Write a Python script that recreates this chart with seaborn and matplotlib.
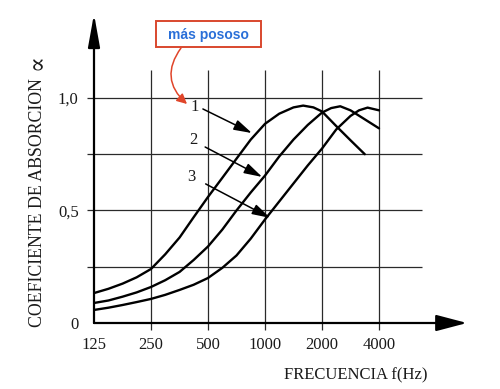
import numpy as np
import pandas as pd
import matplotlib
matplotlib.use('Agg')
import matplotlib.pyplot as plt
import seaborn as sns
from matplotlib.patches import Rectangle
from matplotlib.ticker import NullLocator

# absorption curves (frequency in Hz, coefficient)

freq_1 = [125, 149, 177, 210, 250, 297, 354, 420, 500, 595, 707, 841, 1000,
          1189, 1414, 1591, 1802, 2000, 2378, 2828, 3364]
alpha_1 = [0.133, 0.152, 0.175, 0.203, 0.24, 0.305, 0.38, 0.47, 0.56, 0.645, 0.73, 0.815, 0.885,
           0.93, 0.958, 0.966, 0.958, 0.94, 0.875, 0.812, 0.75]

freq_2 = [125, 149, 177, 210, 250, 297, 354, 420, 500, 595, 707, 841, 1000,
          1189, 1414, 1682, 2000, 2237, 2497, 2828, 3364, 4000]
alpha_2 = [0.089, 0.1, 0.117, 0.136, 0.16, 0.19, 0.227, 0.28, 0.34, 0.415, 0.5, 0.58, 0.655,
           0.74, 0.815, 0.88, 0.935, 0.955, 0.963, 0.945, 0.905, 0.865]

freq_3 = [125, 149, 177, 210, 250, 297, 354, 420, 500, 595, 707, 841, 1000,
          1189, 1414, 1682, 2000, 2378, 2828, 3138, 3482, 4000]
alpha_3 = [0.058, 0.068, 0.08, 0.093, 0.107, 0.125, 0.147, 0.17, 0.2, 0.245, 0.30, 0.375, 0.46,
           0.54, 0.62, 0.70, 0.775, 0.86, 0.92, 0.945, 0.957, 0.945]

x_ticks = [125, 250, 500, 1000, 2000, 4000]
x_labels = ['125', '250', '500', '1000', '2000', '4000']
y_ticks = [0, 0.5, 1.0]
y_labels = ['0', '0,5', '1,0']
grid_y = [0.25, 0.5, 0.75, 1.0]

df = pd.concat([
    pd.DataFrame({'freq': freq_1, 'alpha': alpha_1, 'curve': '1'}),
    pd.DataFrame({'freq': freq_2, 'alpha': alpha_2, 'curve': '2'}),
    pd.DataFrame({'freq': freq_3, 'alpha': alpha_3, 'curve': '3'}),
])

sns.set_style('white')
plt.rcParams['font.family'] = ['Liberation Serif', 'DejaVu Serif']

fig = plt.figure(figsize=(5, 3.89), dpi=100)
ax = fig.add_axes([94 / 500, 66 / 389, 373 / 500, 309 / 389])
ax.set_xscale('log', base=2)
ax.set_xlim(125, 125 * 2 ** 6.544)
ax.set_ylim(0, 1.373)

# grid
ax.hlines(grid_y, 114.8, 6744, color='#2a2a2a', lw=0.9, clip_on=False, zorder=1)
ax.vlines(x_ticks[1:], -0.031, 1.124, color='#2a2a2a', lw=0.9, clip_on=False, zorder=1)

sns.lineplot(data=df, x='freq', y='alpha', hue='curve', palette=['black'] * 3,
             estimator=None, sort=False, lw=1.7, legend=False, ax=ax, zorder=3)
for ln in ax.get_lines():
    ln.set_solid_joinstyle('round')

# axes with arrows
for s in ax.spines.values():
    s.set_visible(False)
ax.annotate('', xy=(1, 0), xytext=(0, 0), xycoords='axes fraction',
            arrowprops=dict(arrowstyle='-|>,head_length=1.9,head_width=0.5',
                            lw=1.6, color='black', shrinkA=0, shrinkB=0))
ax.annotate('', xy=(0, 1), xytext=(0, 0), xycoords='axes fraction',
            arrowprops=dict(arrowstyle='-|>,head_length=2.0,head_width=0.36',
                            lw=1.6, color='black', shrinkA=0, shrinkB=0))

ax.set_xticks(x_ticks)
ax.set_xticklabels(x_labels)
ax.xaxis.set_minor_locator(NullLocator())
ax.set_yticks(y_ticks)
ax.set_yticklabels(y_labels)
ax.tick_params(axis='both', length=0, labelsize=12, colors='#1a1a1a')
ax.tick_params(axis='x', pad=10)
ax.tick_params(axis='y', pad=11)
ax.set_xlabel('')
ax.set_ylabel('')

# curve numbers with pointer arrows
labels_pos = [(425, 0.96), (420, 0.813), (406, 0.649)]
arrow_from = [(470, 0.951), (483, 0.782), (486, 0.618)]
arrow_to = [(853, 0.844), (966, 0.649), (1065, 0.467)]
for i, (lp, a0, a1) in enumerate(zip(labels_pos, arrow_from, arrow_to)):
    ax.text(lp[0], lp[1], str(i + 1), fontsize=12, ha='center', va='center', color='#1a1a1a')
    ax.annotate('', xy=a1, xytext=a0,
                arrowprops=dict(arrowstyle='-|>,head_length=1.1,head_width=0.32',
                                lw=1.1, color='black', shrinkA=0, shrinkB=0))

fig.text(356 / 500, 1 - 375 / 389, 'FRECUENCIA f(Hz)', fontsize=12,
         ha='center', va='center', color='#1a1a1a')
fig.text(38 / 500, 1 - 203 / 389, 'COEFICIENTE DE ABSORCION', fontsize=12.8,
         rotation=90, ha='center', va='center', color='#1a1a1a')
fig.text(37 / 500, 1 - 62 / 389, '\u221d', fontsize=17, family=['DejaVu Serif'],
         rotation=90, ha='center', va='center', color='#1a1a1a')

# highlighted note
fig.add_artist(Rectangle((156 / 500, 1 - 47 / 389), 105 / 500, 26 / 389,
                         transform=fig.transFigure, fc='white', ec='#d9482e', lw=1.4))
fig.text(208.5 / 500, 1 - 34.5 / 389, 'más pososo', fontsize=10, fontweight='bold',
         family=['Liberation Sans', 'DejaVu Sans'], color='#2a6fd8', ha='center', va='center')
ax.annotate('', xy=(187 / 500, 1 - 104 / 389), xytext=(181 / 500, 1 - 48 / 389),
            xycoords='figure fraction',
            arrowprops=dict(arrowstyle='-|>,head_length=0.6,head_width=0.3', lw=1.1,
                            color='#e0452a', shrinkA=0, shrinkB=0,
                            connectionstyle='arc3,rad=0.45'))

fig.savefig('out.png', dpi=100)
